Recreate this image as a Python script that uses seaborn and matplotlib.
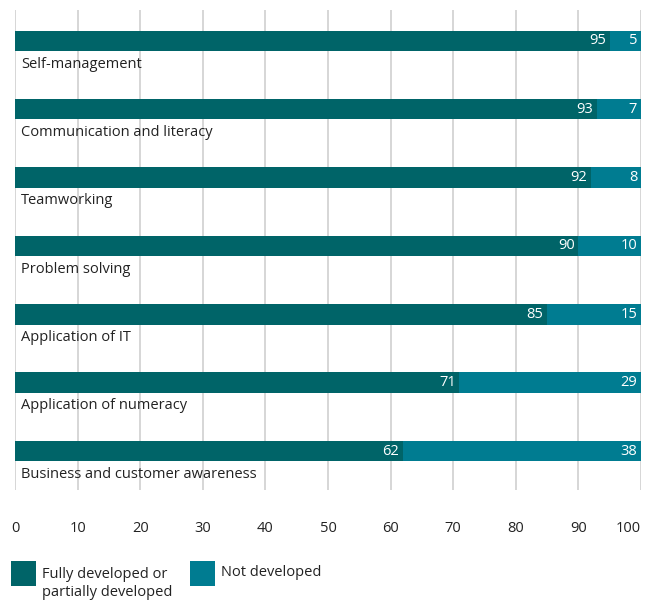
import numpy as np
import pandas as pd
import matplotlib.pyplot as plt
import seaborn as sns
from matplotlib.patches import Rectangle

skills = [
    "Self-management",
    "Communication and literacy",
    "Teamworking",
    "Problem solving",
    "Application of IT",
    "Application of numeracy",
    "Business and customer awareness",
]
developed = [95, 93, 92, 90, 85, 71, 62]
not_developed = [5, 7, 8, 10, 15, 29, 38]
ticks = list(range(0, 101, 10))
legend_labels = ["Fully developed or\npartially developed", "Not developed"]

dark = "#006468"
light = "#007c91"
text_col = "#222222"

df = pd.DataFrame({"skill": skills, "developed": developed,
                   "not_developed": not_developed})
df["total"] = df["developed"] + df["not_developed"]

sns.set_style("white")
plt.rcParams["font.family"] = ["Open Sans", "DejaVu Sans"]

W, H = 651, 601
fig = plt.figure(figsize=(W / 100, H / 100), dpi=100)
ax = fig.add_axes([15 / W, 1 - 490 / H, 626 / W, 480 / H])

# full bar (100%) in light teal, developed share drawn on top in dark teal
sns.barplot(data=df, y="skill", x="total", color=light, orient="h",
            width=0.3, saturation=1, linewidth=0, ax=ax, zorder=2)
sns.barplot(data=df, y="skill", x="developed", color=dark, orient="h",
            width=0.3, saturation=1, linewidth=0, ax=ax, zorder=3)

for i, row in df.iterrows():
    ax.text(row["developed"] - 0.6, i, str(row["developed"]), color="white",
            ha="right", va="center", fontsize=10.5, zorder=4)
    ax.text(row["total"] - 0.6, i, str(row["not_developed"]), color="white",
            ha="right", va="center", fontsize=10.5, zorder=4)
    ax.text(1.0, i + 0.34, row["skill"], color=text_col, ha="left",
            va="center", fontsize=10.5, zorder=4)

ax.set_xlim(0, 100)
ax.set_ylim(6.57, -0.45)
ax.set_xticks(ticks)
ax.set_xticklabels([str(t) for t in ticks], fontsize=10.5, color=text_col)
ax.get_xticklabels()[-1].set_horizontalalignment("right")
ax.set_yticks([])
ax.set_xlabel("")
ax.set_ylabel("")
ax.tick_params(axis="x", length=0, pad=22)
ax.grid(axis="x", color="#d0d0d0", linewidth=1.2, zorder=0)
for s in ax.spines.values():
    s.set_visible(False)

# legend: square swatches with top-aligned labels
for x0, col, lab in [(11, dark, legend_labels[0]), (190, light, legend_labels[1])]:
    fig.add_artist(Rectangle((x0 / W, 1 - 586 / H), 25 / W, 25 / H,
                             transform=fig.transFigure, facecolor=col,
                             edgecolor="none"))
    top = 567 if "\n" in lab else 565
    fig.text((x0 + 31) / W, 1 - top / H, lab, ha="left", va="top",
             fontsize=10.5, color=text_col, linespacing=1.3)

fig.savefig("out.png", dpi=100)
